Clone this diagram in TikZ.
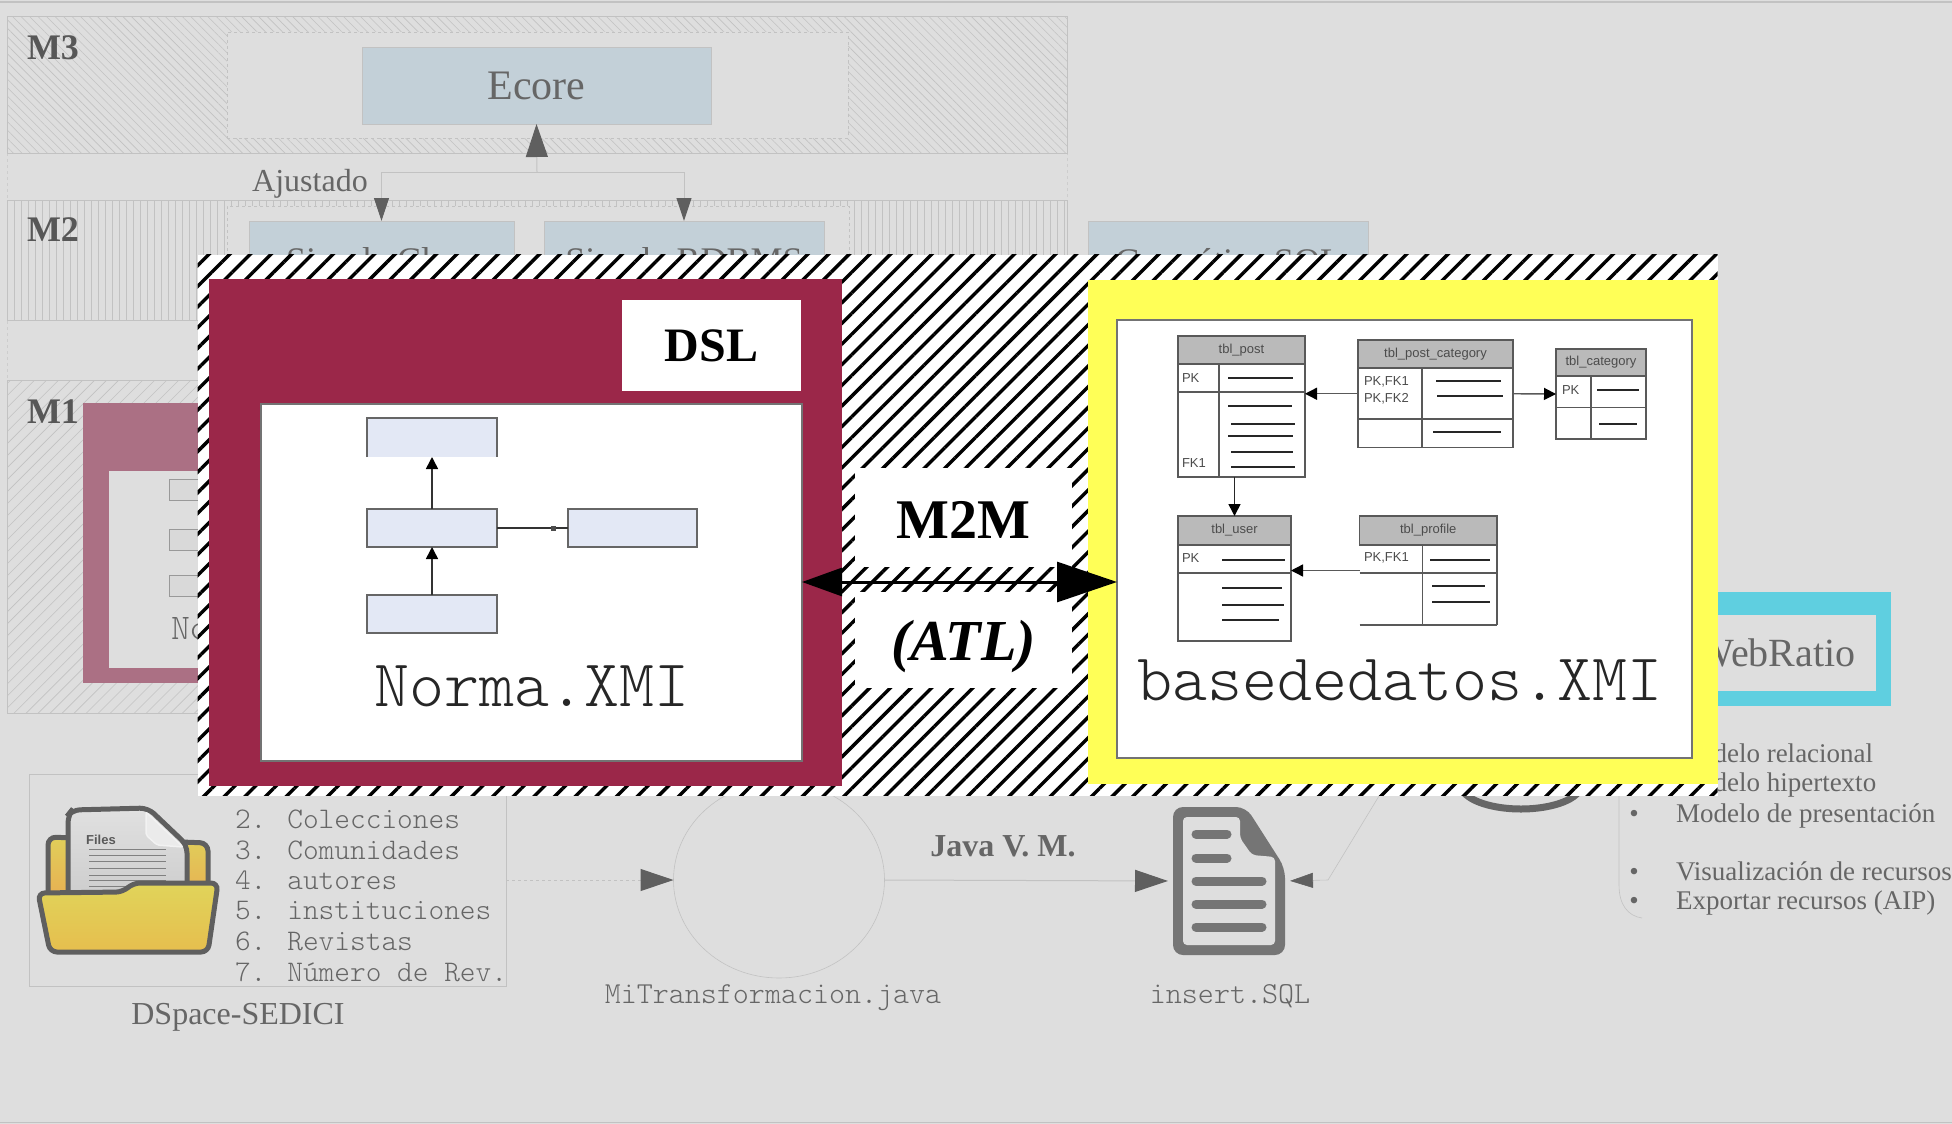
\documentclass[tikz,border=0pt]{standalone}
\usepackage{fontspec}
\usepackage{xcolor}
\setmainfont{Liberation Serif}
\setsansfont{Liberation Sans}
\newfontfamily\lightmono{Latin Modern Mono Light}
\usetikzlibrary{arrows.meta,patterns.meta,shapes.geometric}

\definecolor{bgcol}{HTML}{DEDEDE}
\definecolor{rulecol}{HTML}{C2C2C2}
\definecolor{inkcol}{HTML}{666666}
\definecolor{tipcol}{HTML}{5F5F5F}
\definecolor{boxcol}{HTML}{C3D0D8}
\definecolor{pinkcol}{HTML}{AB7084}
\definecolor{redcol}{HTML}{9B2749}
\definecolor{yellowcol}{HTML}{FFFF57}
\definecolor{cyancol}{HTML}{5FCFE0}
\definecolor{umlcol}{HTML}{E3E8F5}
\definecolor{iconcol}{HTML}{757575}
\definecolor{folderfronta}{HTML}{E0D45A}
\definecolor{folderfrontb}{HTML}{E6BE4E}
\definecolor{folderbacka}{HTML}{E0CF5A}
\definecolor{folderbackb}{HTML}{E8AE52}

\newcommand{\fz}[1]{\fontsize{#1}{#1}\selectfont}

\tikzset{
    block/.style={inner sep=0pt,outer sep=0pt},
    wire/.style={draw=rulecol,line width=1pt},
    band/.style={block,draw=rulecol,line width=1pt},
    dashbox/.style={block,draw=rulecol,dashed,line width=.8pt,fill=bgcol},
    metaboxa/.style={block,fill=boxcol,draw=rulecol,line width=.6pt,text=inkcol,font=\fz{36}},
    level/.style={block,text=inkcol!85!black,font=\bfseries\fz{36}},
    graytext/.style={block,text=inkcol},
    umlbox/.style={block,fill=umlcol,draw=black!60,line width=2.4pt},
    tbl/.style={block,fill=white,draw=black!65,line width=1.4pt},
    tblhead/.style={block,fill=black!27,draw=black!65,line width=1.4pt,font=\sffamily\fz{13},text=black!70},
    tbltext/.style={block,anchor=west,font=\sffamily\fz{13},text=black!70},
    bigtip/.style={-{Triangle[length=33pt,width=22pt,color=tipcol]}},
    smalltip/.style={-{Triangle[length=23pt,width=15pt,color=tipcol]}},
    tbltip/.style={-{Triangle[length=12pt,width=12pt,color=black]}}
}

\begin{document}
\begin{tikzpicture}[x=1pt,y=-1pt]
    \useasboundingbox (0,0) rectangle (1952,1124);
    \fill[bgcol] (0,0) rectangle (1952,1124);
    \draw[rulecol,line width=1.5pt] (0,2) -- (1952,2) (0,1122.5) -- (1952,1122.5);
    \draw[rulecol!60!bgcol,dashed,line width=.6pt] (7,153) rectangle (1067,380);

    % bands
    \node (bandthree) at (537,85) [band,minimum width=1060pt,minimum height=136pt,
        pattern={Lines[angle=-45,distance=6pt,line width=.6pt]},pattern color=rulecol] {};
    \node (bandtwo) at (537,260) [band,minimum width=1060pt,minimum height=120pt,
        pattern={Lines[angle=90,distance=7pt,line width=.6pt]},pattern color=rulecol] {};
    \node (bandone) at (537,546.5) [band,minimum width=1060pt,minimum height=333pt,
        pattern={Lines[angle=45,distance=8.5pt,line width=.6pt]},pattern color=rulecol] {};
    \node (lvlthree) at (53,48) [level] {M3};
    \node (lvltwo) at (53,230) [level] {M2};
    \node (lvlone) at (53,412) [level] {M1};

    % M3 and M2
    \node (ecoreframe) at (537.5,85) [dashbox,minimum width=621pt,minimum height=106pt] {};
    \node (simpleframe) at (538,280) [dashbox,minimum width=622pt,minimum height=148pt] {};
    \node (ecore) at (536.5,85.5) [metaboxa,minimum width=349pt,minimum height=77pt,font=\fz{42}] {Ecore};
    \node (simpleclase) at (381.5,264) [metaboxa,minimum width=265pt,minimum height=86pt] {Simple Clase};
    \node (simplerdbms) at (684,264) [metaboxa,minimum width=280pt,minimum height=86pt] {Simple RDBMS};
    \node (gramatica) at (1228.5,264) [metaboxa,minimum width=280pt,minimum height=86pt] {Gramática SQL};
    \coordinate (split) at (537,172);
    \node (ajustado) at (310,184) [graytext,font=\fz{32}] {Ajustado};
    \draw[wire,bigtip] (split) -- (ecore.south);
    \draw[wire,smalltip] (split) -| (simpleclase.north);
    \draw[wire,smalltip] (split) -| (simplerdbms.north);

    % what is left of M1
    \node (pinkframe) at (220,543) [block,fill=pinkcol,minimum width=274pt,minimum height=280pt] {};
    \node (pinkinner) at (220,569.5) [block,fill=bgcol,minimum width=222pt,minimum height=197pt] {};
    \foreach \y/\n in {490/a,539.5/b,586/c}
        \node (small\n) at (210,\y) [block,fill=black!15,draw=black!40,line width=1pt,minimum width=82pt,minimum height=21pt] {};
    \node (normahid) at (171,629) [graytext,anchor=west,font=\lightmono\fz{36}] {Norma};

    % right side
    \node (wrframe) at (1790,649) [block,fill=cyancol,minimum width=202pt,minimum height=114pt] {};
    \node (wrinner) at (1776,653) [block,fill=bgcol,minimum width=200pt,minimum height=76pt,text=inkcol,font=\fz{40}] {WebRatio};
    \draw[inkcol,line width=7pt] (1521,785) ellipse [x radius=60,y radius=24];
    \foreach \y/\txt in {755.5/Modelo relacional,784.5/Modelo hipertexto,815.5/Modelo de presentación,873.5/Visualización de recursos,902.5/Exportar recursos (AIP)} {
        \node (rowa\y) at (1676,\y) [graytext,anchor=west,text height=20pt,text depth=7pt,font=\fz{27}] {\txt};
        \node (rowb\y) at (1634,\y) [graytext,text height=20pt,text depth=7pt,font=\fz{27}] {\textbullet};
    }
    \coordinate (curvetop) at (1619,796);
    \coordinate (curveend) at (1642,918);
    \draw[rulecol,line width=.6pt] (curvetop) -- (1619,885) .. controls (1619,905) and (1628,916) .. (curveend);

    % bottom row
    \node (dspace) at (267.5,880) [block,draw=rulecol,line width=.8pt,minimum width=477pt,minimum height=212pt] {};
    \foreach \y/\txt in {819/2. Colecciones,850/3. Comunidades,880/4. autores,911/5. instituciones,941/6. Revistas,972/7. Número de Rev.}
        \node (col\y) at (235,\y) [graytext,anchor=west,font=\lightmono\fz{29.9}] {\txt};
    \node (dspacelbl) at (238,1017) [graytext,font=\fz{32}] {DSpace-SEDICI};
    \node (java) at (779,880) [ellipse,block,draw=rulecol,line width=.6pt,minimum width=211pt,minimum height=196pt] {};
    \node (javalbl) at (773,998) [graytext,font=\lightmono\fz{30.5}] {MiTransformacion.java};
    \node (vmlbl) at (1003,846) [graytext,font=\bfseries\fz{32}] {Java V. M.};
    \node (fileicon) at (1229,881) [block,minimum width=112pt,minimum height=148pt] {};
    \node (filelbl) at (1230,996) [graytext,font=\lightmono\fz{30.5}] {insert.SQL};
    \draw[wire,dashed,bigtip] (dspace.east) -- (java.west);
    \draw[wire,bigtip,shorten >=5pt] (java.east) -- (fileicon.west);
    \coordinate (hiddenend) at (1379,796);
    \coordinate (elbow) at (1328,880);
    \draw[wire,line width=.6pt,smalltip,shorten >=5pt] (hiddenend) -- (elbow) -- (fileicon.east);

    % folder
    \fill[rounded corners=8pt,bottom color=folderbackb,top color=folderbacka,draw=tipcol,line width=5pt]
        (48,837) -- (208,843) -- (208,900) -- (48,900) -- cycle;
    \fill[rounded corners=8pt,top color=black!12,bottom color=black!20,draw=tipcol,line width=5pt]
        (68,815) -- (72,810) -- (148,808) -- (187,845) -- (187,900) -- (68,900) -- cycle;
    \fill[black!8,draw=black!5,line width=1.5pt,rounded corners=2pt] (146,812) -- (183,847) -- (157,845) -- (146,835) -- cycle;
    \node (fileslbl) at (101,840) [block,font=\sffamily\bfseries\fz{13},text=black!65] {Files};
    \foreach \y in {849,855,861,868,875,880,886}
        \draw[black!50,line width=.9pt] (89,\y) -- (166,\y);
    \fill[rounded corners=7pt,top color=folderfronta,bottom color=folderfrontb,draw=tipcol,line width=5pt]
        (38,893) -- (123,892) -- (133,883) -- (218,883) -- (208,952) -- (50,952) -- cycle;

    % file icon
    \fill[iconcol,rounded corners=10pt] (1173,807) -- (1246,807) -- (1285,868) -- (1285,955) -- (1173,955) -- cycle;
    \fill[bgcol,rounded corners=4pt] (1183,817) -- (1240,817) -- (1240,838) -- (1252,855) -- (1275,857) -- (1275,945) -- (1183,945) -- cycle;
    \foreach \y/\xb in {834/1227,858/1227,881/1262,904/1262,927/1262}
        \draw[iconcol,line width=9pt,line cap=round] (1196,\y) -- (\xb,\y);

    % front panel
    \node (panel) at (957.5,525) [block,minimum width=1520pt,minimum height=541pt,preaction={fill=white},
        pattern={Lines[angle=45,distance=14.6pt,line width=3.4pt]},pattern color=black] {};

    % left model
    \node (dslframe) at (525.5,532.5) [block,fill=redcol,minimum width=633pt,minimum height=507pt] {};
    \node (dsltag) at (711.5,345.5) [block,fill=white,minimum width=179pt,minimum height=91pt,font=\bfseries\fz{48}] {DSL};
    \node (normabox) at (531.5,582) [block,fill=white,draw=black!55,line width=2pt,minimum width=541pt,minimum height=357pt] {};
    \node (umltop) at (432,437.5) [umlbox,draw=none,minimum width=130pt,minimum height=39pt] {};
    \draw[black!60,line width=2.4pt] (umltop.south west) |- (umltop.north east) -- (umltop.south east);
    \node (umlmid) at (432,528) [umlbox,minimum width=130pt,minimum height=38pt] {};
    \node (umlbot) at (432,614) [umlbox,minimum width=130pt,minimum height=38pt] {};
    \node (umlright) at (632.5,528) [umlbox,minimum width=129pt,minimum height=38pt] {};
    \draw[black!80,line width=1.6pt,tbltip] (umlmid.north) -- (umltop.south);
    \draw[black!80,line width=1.6pt,tbltip] (umlbot.north) -- (umlmid.south);
    \draw[black!80,line width=1.6pt] (umlmid.east) -- node[pos=.8,fill=black!70,minimum size=5pt,inner sep=0pt] (umltick) {} (umlright.west);
    \node (normalbl) at (532,686) [block,text=black!85,font=\lightmono\fz{66.7}] {Norma.XMI};

    % right model
    \node (dbframe) at (1403,532) [block,fill=yellowcol,minimum width=630pt,minimum height=504pt] {};
    \node (dbbox) at (1404.5,539) [block,fill=white,draw=black!55,line width=2pt,minimum width=575pt,minimum height=438pt] {};

    \node (tblpost) at (1241.5,406.5) [tbl,minimum width=127pt,minimum height=141pt] {};
    \node (tblposth) at (1241.5,350) [tblhead,minimum width=127pt,minimum height=28pt] {tbl\_post};
    \node (tblpostcat) at (1435.5,393.75) [tbl,minimum width=155pt,minimum height=107.5pt] {};
    \node (tblpostcath) at (1435.5,354) [tblhead,minimum width=155pt,minimum height=28pt] {tbl\_post\_category};
    \node (tblcategory) at (1601,394) [tbl,minimum width=90pt,minimum height=90pt] {};
    \node (tblcategoryh) at (1601,362.5) [tblhead,minimum width=90pt,minimum height=27pt] {tbl\_category};
    \node (tbluser) at (1234.5,578.5) [tbl,minimum width=113pt,minimum height=125pt] {};
    \node (tbluserh) at (1234.5,530.5) [tblhead,minimum width=113pt,minimum height=29pt] {tbl\_user};
    \node (tblprofile) at (1428.25,570.5) [tbl,draw=none,minimum width=137.5pt,minimum height=109pt] {};
    \node (tblprofileh) at (1428.25,530.5) [tblhead,minimum width=137.5pt,minimum height=29pt] {tbl\_profile};

    % table rules
    \draw[black!65,line width=1.4pt] (1178,392) -- (1305,392) (1219,364) -- (1219,477)
        (1358,419) -- (1513,419) (1422,368) -- (1422,447.5)
        (1556,407.5) -- (1646,407.5) (1591,376) -- (1591,439)
        (1178,573) -- (1291,573)
        (1359.5,573) -- (1497,573) (1422.5,545) -- (1422.5,625) (1359.5,625) -- (1497,625) (1497,545) -- (1497,625);
    \foreach \xa/\xb/\y in {1228/1293/378,1228/1292/406,1231/1295/424,1228/1293/436,1231/1293/452,1231/1295/467,
        1436/1501/381,1437/1503/396,1433/1501/432,
        1597/1639/390,1599/1637/424,
        1222/1285/560,1222/1282/587.5,1222/1284/605,1222/1279/620,
        1430/1490/560,1432/1485/586,1432/1490/602}
        \draw[black!85,line width=2pt] (\xa,\y) -- (\xb,\y);
    \foreach \x/\y/\txt in {1182/378/PK,1182/463/FK1,1364/382/{PK,FK1},1364/399/{PK,FK2},1562/390/PK,1182/558/PK,1364/558/{PK,FK1}}
        \node (fld\x\y) at (\x,\y) [tbltext] {\txt};
    \draw[black!65,line width=1.4pt,tbltip] (tblpostcat.west) -- (tblpost.east |- tblpostcat.west);
    \draw[black!65,line width=1.4pt,tbltip] (tblpostcat.east) -- (tblcategory.west);
    \draw[black!85,line width=1.6pt,tbltip] (tbluser.north |- tblpost.south) -- (tbluser.north);
    \draw[black!65,line width=1.4pt,tbltip] (tblprofile.west) -- (tbluser.east |- tblprofile.west);
    \node (dblbl) at (1400,680) [block,text=black!85,font=\lightmono\fz{66.7}] {basededatos.XMI};

    % transformation
    \node (mtoptag) at (963.5,517.5) [block,fill=white,minimum width=217pt,minimum height=99pt] {};
    \node (mtoplbl) at (963.5,520) [block,font=\bfseries\fz{56}] {M2M};
    \node (atltag) at (963.5,640) [block,fill=white,minimum width=217pt,minimum height=96pt] {};
    \node (atllbl) at (963.5,647) [block,font=\bfseries\itshape\fz{58}] {(ATL)};
    \draw[black,line width=3pt,{Triangle[length=40pt,width=28pt]}-{Triangle[length=60pt,width=40pt]}]
        (normabox.east) -- (dbbox.west |- normabox.east);
\end{tikzpicture}
\end{document}
